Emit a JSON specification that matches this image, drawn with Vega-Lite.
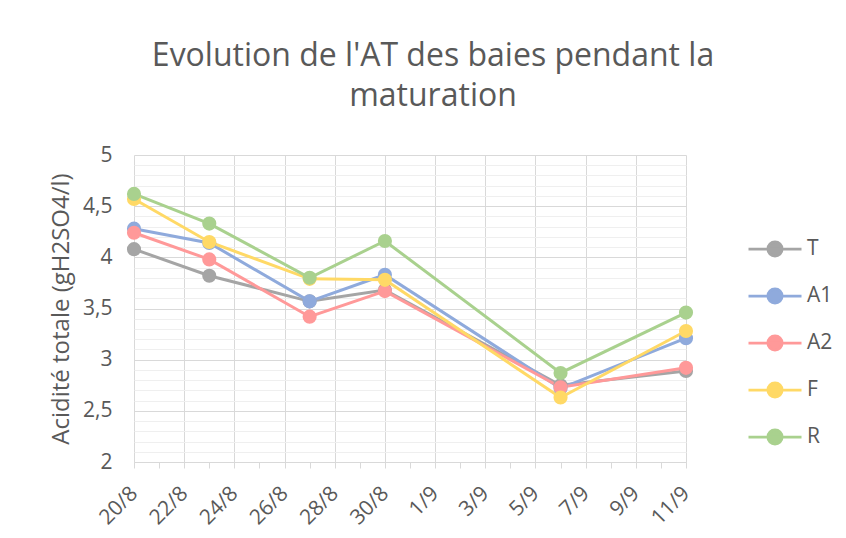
{
  "$schema": "https://vega.github.io/schema/vega-lite/v6.json",
  "width": 552,
  "height": 307,
  "autosize": {"type": "none"},
  "padding": {"left": 134, "top": 155, "right": 160, "bottom": 76},
  "background": "white",
  "title": {
    "text": ["Evolution de l'AT des baies pendant la", "maturation"],
    "font": "Open Sans",
    "fontSize": 32,
    "fontWeight": "normal",
    "color": "#595959",
    "anchor": "middle",
    "dx": 23,
    "offset": 31,
    "lineHeight": 40
  },
  "config": {
    "view": {"stroke": null},
    "font": "Open Sans",
    "axis": {"labelColor": "#595959", "titleColor": "#595959", "labelFont": "Open Sans", "titleFont": "Open Sans"},
    "legend": {"labelFont": "Open Sans"}
  },
  "data": {
    "values": [
      {"date": "2019-08-20", "serie": "T", "at": 4.08},
      {"date": "2019-08-23", "serie": "T", "at": 3.82},
      {"date": "2019-08-27", "serie": "T", "at": 3.57},
      {"date": "2019-08-30", "serie": "T", "at": 3.68},
      {"date": "2019-09-06", "serie": "T", "at": 2.75},
      {"date": "2019-09-11", "serie": "T", "at": 2.89},
      {"date": "2019-08-20", "serie": "A1", "at": 4.28},
      {"date": "2019-08-23", "serie": "A1", "at": 4.14},
      {"date": "2019-08-27", "serie": "A1", "at": 3.57},
      {"date": "2019-08-30", "serie": "A1", "at": 3.83},
      {"date": "2019-09-06", "serie": "A1", "at": 2.72},
      {"date": "2019-09-11", "serie": "A1", "at": 3.21},
      {"date": "2019-08-20", "serie": "A2", "at": 4.24},
      {"date": "2019-08-23", "serie": "A2", "at": 3.98},
      {"date": "2019-08-27", "serie": "A2", "at": 3.42},
      {"date": "2019-08-30", "serie": "A2", "at": 3.67},
      {"date": "2019-09-06", "serie": "A2", "at": 2.73},
      {"date": "2019-09-11", "serie": "A2", "at": 2.92},
      {"date": "2019-08-20", "serie": "F", "at": 4.57},
      {"date": "2019-08-23", "serie": "F", "at": 4.15},
      {"date": "2019-08-27", "serie": "F", "at": 3.79},
      {"date": "2019-08-30", "serie": "F", "at": 3.78},
      {"date": "2019-09-06", "serie": "F", "at": 2.63},
      {"date": "2019-09-11", "serie": "F", "at": 3.28},
      {"date": "2019-08-20", "serie": "R", "at": 4.62},
      {"date": "2019-08-23", "serie": "R", "at": 4.33},
      {"date": "2019-08-27", "serie": "R", "at": 3.80},
      {"date": "2019-08-30", "serie": "R", "at": 4.16},
      {"date": "2019-09-06", "serie": "R", "at": 2.87},
      {"date": "2019-09-11", "serie": "R", "at": 3.46}
    ]
  },
  "mark": {"type": "line", "strokeWidth": 3, "point": {"filled": true, "size": 200, "opacity": 1}},
  "encoding": {
    "x": {
      "field": "date",
      "type": "temporal",
      "scale": {
        "type": "utc",
        "domain": [{"year": 2019, "month": 8, "date": 20, "utc": true}, {"year": 2019, "month": 9, "date": 11, "utc": true}],
        "nice": false,
        "padding": 0
      },
      "axis": {
        "title": null,
        "values": [
          {"year": 2019, "month": 8, "date": 20, "utc": true},
          {"year": 2019, "month": 8, "date": 21, "utc": true},
          {"year": 2019, "month": 8, "date": 22, "utc": true},
          {"year": 2019, "month": 8, "date": 23, "utc": true},
          {"year": 2019, "month": 8, "date": 24, "utc": true},
          {"year": 2019, "month": 8, "date": 25, "utc": true},
          {"year": 2019, "month": 8, "date": 26, "utc": true},
          {"year": 2019, "month": 8, "date": 27, "utc": true},
          {"year": 2019, "month": 8, "date": 28, "utc": true},
          {"year": 2019, "month": 8, "date": 29, "utc": true},
          {"year": 2019, "month": 8, "date": 30, "utc": true},
          {"year": 2019, "month": 8, "date": 31, "utc": true},
          {"year": 2019, "month": 9, "date": 1, "utc": true},
          {"year": 2019, "month": 9, "date": 2, "utc": true},
          {"year": 2019, "month": 9, "date": 3, "utc": true},
          {"year": 2019, "month": 9, "date": 4, "utc": true},
          {"year": 2019, "month": 9, "date": 5, "utc": true},
          {"year": 2019, "month": 9, "date": 6, "utc": true},
          {"year": 2019, "month": 9, "date": 7, "utc": true},
          {"year": 2019, "month": 9, "date": 8, "utc": true},
          {"year": 2019, "month": 9, "date": 9, "utc": true},
          {"year": 2019, "month": 9, "date": 10, "utc": true},
          {"year": 2019, "month": 9, "date": 11, "utc": true}
        ],
        "labelExpr": "round((datum.value - 1566259200000) / 86400000) % 2 == 0 ? utcFormat(datum.value, '%-d/%-m') : ''",
        "labelAngle": -45,
        "labelAlign": "right",
        "labelBaseline": "middle",
        "labelFontSize": 21,
        "labelPadding": 22,
        "labelOverlap": false,
        "labelBound": false,
        "labelFlush": false,
        "grid": true,
        "gridColor": "#D9D9D9",
        "gridWidth": 1,
        "gridOpacity": {"condition": {"test": "round((datum.value - 1566259200000) / 86400000) % 2 == 0", "value": 1}, "value": 0},
        "ticks": true,
        "tickColor": "#D9D9D9",
        "tickSize": 6,
        "domain": true,
        "domainColor": "#D9D9D9",
        "domainWidth": 1
      }
    },
    "y": {
      "field": "at",
      "type": "quantitative",
      "scale": {"domain": [2, 5], "nice": false, "zero": false},
      "axis": {
        "title": "Acidité totale (gH2SO4/l)",
        "titleFontSize": 24,
        "titleFontWeight": "normal",
        "titlePadding": 9,
        "values": [2, 2.1, 2.2, 2.3, 2.4, 2.5, 2.6, 2.7, 2.8, 2.9, 3, 3.1, 3.2, 3.3, 3.4, 3.5, 3.6, 3.7, 3.8, 3.9, 4, 4.1, 4.2, 4.3, 4.4, 4.5, 4.6, 4.7, 4.8, 4.9, 5],
        "labelExpr": "abs(datum.value * 2 - round(datum.value * 2)) < 0.001 ? replace(format(datum.value, '~g'), '.', ',') : ''",
        "labelFontSize": 21,
        "labelPadding": 22,
        "labelOverlap": false,
        "ticks": false,
        "domain": false,
        "grid": true,
        "gridColor": {"condition": {"test": "abs(datum.value * 2 - round(datum.value * 2)) < 0.001", "value": "#D9D9D9"}, "value": "#EFEFEF"},
        "gridWidth": 1
      }
    },
    "color": {
      "field": "serie",
      "type": "nominal",
      "sort": ["T", "A1", "A2", "F", "R"],
      "scale": {"domain": ["T", "A1", "A2", "F", "R"], "range": ["#A5A5A5", "#8FAADC", "#FF9999", "#FFD966", "#A9D18E"]},
      "legend": {
        "title": null,
        "orient": "none",
        "legendX": 613,
        "legendY": 66,
        "symbolType": "M-1,0H1M-0.27,0A0.27,0.27 0 1,1 0.27,0A0.27,0.27 0 1,1 -0.27,0Z",
        "symbolSize": 2809,
        "symbolStrokeWidth": 2.75,
        "symbolOpacity": 1,
        "labelFontSize": 21,
        "labelColor": "#595959",
        "labelOffset": 4,
        "rowPadding": 6
      }
    }
  }
}
